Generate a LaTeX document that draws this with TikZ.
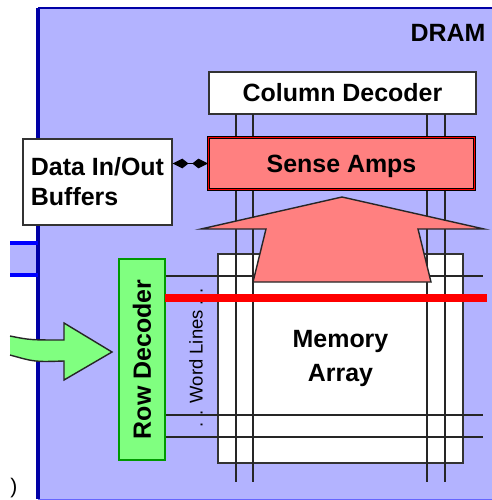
\documentclass[tikz,border=0pt]{standalone}
\usepackage{fontspec}
\setmainfont{Liberation Sans}
\usetikzlibrary{arrows.meta}
\definecolor{panelblue}{HTML}{B3B3FF}
\definecolor{ampred}{HTML}{FF8080}
\definecolor{decgreen}{HTML}{80FF80}
\tikzset{
  >={Kite[length=9pt,width=5.5pt,inset=3.5pt]},
}
\tikzstyle{every node}=[font=\fontsize{14.2}{17}\selectfont\bfseries,inner sep=0pt]
\tikzstyle{box}=[draw=black!80,fill=white]
\tikzstyle{wire}=[black!85]

\begin{document}
\begin{tikzpicture}[x=.02cm,y=-.02cm,thick]
    \clip (0,0) rectangle (492,500);
    % chip outline
    \fill[panelblue] (38,8) rectangle (500,499);
    \fill[panelblue] (10,243) rectangle (38,275);
    \draw[blue!65!black,line width=1.2pt] (38,8)--(500,8);
    \draw[blue!65!black,line width=2pt] (38,8)--(38,499);
    \draw[blue!60,line width=.5pt] (38,499)--(500,499);
    \draw[blue,line width=1.8pt] (10,243)--(38,243) (10,275)--(38,275);
    \node (dram) at (448,33) {DRAM};
    \node (closing) [font=\fontsize{12}{14}\selectfont] at (14,488.5) {)};
    % array and wires
    \node (array) [box,minimum width=4.9cm,minimum height=4.18cm,align=center] at (340.5,358.5)
      {Memory\\[2pt]Array};
    \node (coldec) [box,minimum width=5.34cm,minimum height=.84cm] at (342.5,93) {Column Decoder};
    \foreach \x in {236,253,427,445}
      \draw[wire] (\x,114)--(\x,482);
    \foreach \y in {276,415,437}
      \draw[wire] (165,\y)--(483,\y);
    \node (sense) [draw=black,double=red,double distance=.5pt,line width=.5pt,fill=ampred,
      text depth=0pt,minimum width=5.32cm,minimum height=1.04cm] at (341.5,163.5) {Sense Amps};
    \node (buffers) [box,minimum width=2.98cm,minimum height=1.72cm,align=left] at (97.5,182)
      {Data In/Out\\Buffers};
    \draw[<->,black] (buffers.east |- sense.west)--(sense.west);
    % read arrow
    \draw[fill=ampred,draw=black!85,line join=miter] (342,197)--(484,229)--(418,229)--(431,282)
      --(253,282)--(266,229)--(201,229)--cycle;
    \node (rowdec) [draw=green!60!black,fill=decgreen,line width=1pt,minimum width=.92cm,
      minimum height=4.02cm] at (142,359.5) {};
    \node (rowlabel) [rotate=90] at (rowdec) {Row Decoder};
    \node (wordlines) [rotate=90,font=\fontsize{10.5}{12}\selectfont] at (196,357.5)
      {. . Word Lines . .};
    \draw[red,line width=4pt] (165,298)--(487,298);
    % address arrow
    \fill[decgreen] (10,336) .. controls (30,340) .. (64,340)--(64,323)--(112,352)
      --(64,380)--(64,361) .. controls (35,362) .. (10,355)--cycle;
    \draw[black!85] (10,336) .. controls (30,340) .. (64,340)--(64,323)--(112,352)
      --(64,380)--(64,361) .. controls (35,362) .. (10,355);
\end{tikzpicture}
\end{document}
